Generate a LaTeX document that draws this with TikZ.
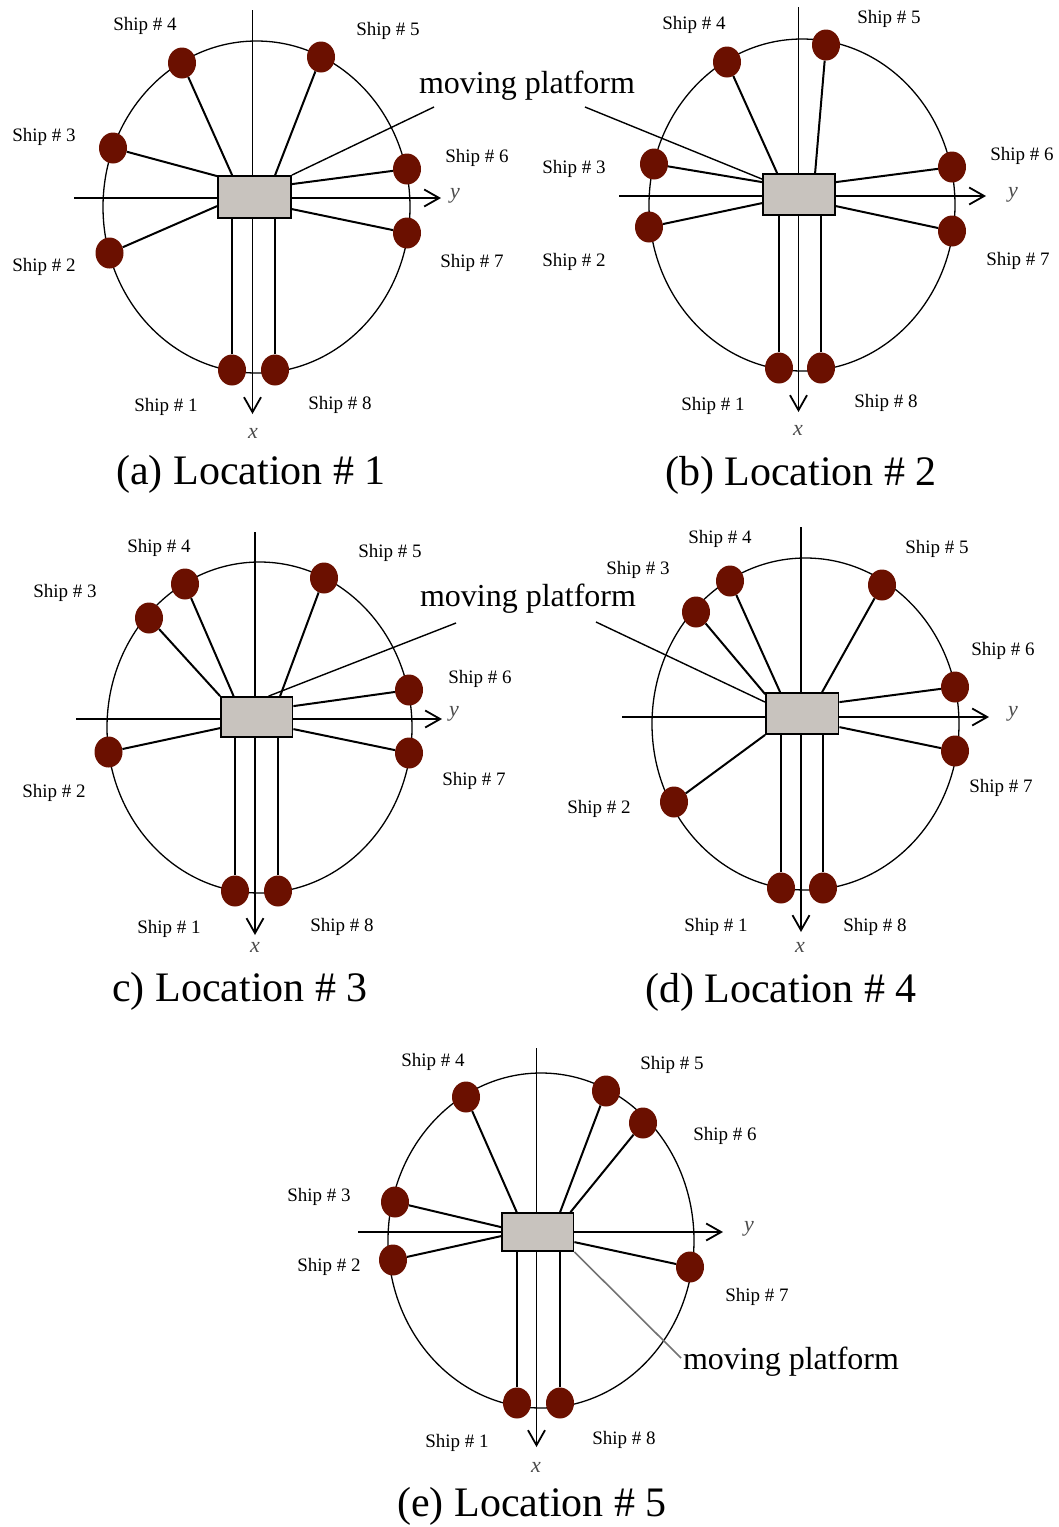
\documentclass[tikz,border=0pt]{standalone}
\usepackage{fontspec}
\setmainfont{Liberation Serif}
\usetikzlibrary{shapes.geometric,arrows.meta}
\definecolor{shipred}{RGB}{107,16,0}
\definecolor{platgray}{RGB}{200,195,190}
\begin{document}
\begin{tikzpicture}[x=1pt,y=-1pt,
 ship/.style={ellipse,fill=shipred,minimum width=28pt,minimum height=31pt,inner sep=0pt},
 plat/.style={draw=black,line width=1.8pt,fill=platgray,inner sep=0pt},
 lab/.style={font=\fontsize{19}{22}\selectfont,inner sep=0pt},
 ttl/.style={font=\fontsize{42}{48}\selectfont,inner sep=0pt},
 mp/.style={font=\fontsize{32}{38}\selectfont,inner sep=0pt},
 axl/.style={font=\fontsize{22}{26}\selectfont\itshape,text=black!70,inner sep=0pt},
 conn/.style={line width=2pt},
 circ/.style={line width=1.3pt},
 axis/.style={line width=1.8pt},
 axarrow/.style={axis,-{Straight Barb[length=15pt,width=17pt,line width=1.8pt]}},
 lead/.style={line width=1.4pt},
 glead/.style={line width=1.6pt,draw=black!55}]
\path[use as bounding box] (0,0) rectangle (1059,1527);

% ================= (a) =================
\draw[circ] (256.5,207) ellipse [x radius=153.5, y radius=166];
\coordinate (aVt) at (252.5,10); \coordinate (aVb) at (252.5,414);
\coordinate (aHl) at (74,198); \coordinate (aHr) at (441,198);
\draw[axarrow] (aVt) -- (aVb);
\draw[axarrow] (aHl) -- (aHr);
\node[plat,minimum width=73pt,minimum height=42pt] (aB) at (254.5,197) {};
\node[ship] (a4) at (182,63) {};
\node[ship] (a5) at (321,57) {};
\node[ship] (a3) at (113,148) {};
\node[ship] (a6) at (407,169) {};
\node[ship] (a2) at (109.5,253) {};
\node[ship] (a7) at (407,233) {};
\node[ship] (a1) at (232,370) {};
\node[ship] (a8) at (275,370) {};
\draw[conn] (a4) -- ([xshift=15pt]aB.north west);
\draw[conn] (a5) -- ([xshift=58pt]aB.north west);
\draw[conn] (a3) -- ([yshift=-1pt]aB.north west);
\draw[conn] (a6) -- ([yshift=-9pt]aB.north east);
\draw[conn] (a2) -- ([yshift=-31pt]aB.north west);
\draw[conn] (a7) -- ([yshift=-34pt]aB.north east);
\draw[conn] (a1) -- (a1 |- aB.south);
\draw[conn] (a8) -- (a8 |- aB.south);
\coordinate (aL) at (434,107);
\draw[lead] (aL) -- (aB.north east);
\node[lab] (a4l) at (145,26) {Ship \# 4};
\node[lab] (a5l) at (388,31) {Ship \# 5};
\node[lab] (a3l) at (44,137) {Ship \# 3};
\node[lab] (a6l) at (477,158) {Ship \# 6};
\node[lab] (a2l) at (44,267) {Ship \# 2};
\node[lab] (a7l) at (472,263) {Ship \# 7};
\node[lab] (a1l) at (166,407) {Ship \# 1};
\node[lab] (a8l) at (340,405) {Ship \# 8};
\node[axl] (axa) at (253,433) {x};
\node[axl] (aya) at (455,196) {y};
\node[ttl] (at) at (251,474) {(a) Location \# 1};

\node[mp] (mp1) at (527,86) {moving platform};

% ================= (b) =================
\draw[circ] (802,205) ellipse [x radius=153, y radius=166];
\coordinate (bVt) at (798.5,7); \coordinate (bVb) at (798.5,412);
\coordinate (bHl) at (619,196); \coordinate (bHr) at (986,196);
\draw[axarrow] (bVt) -- (bVb);
\draw[axarrow] (bHl) -- (bHr);
\node[plat,minimum width=72pt,minimum height=41pt] (bB) at (799,194.5) {};
\node[ship] (b4) at (727,62) {};
\node[ship] (b5) at (826,45) {};
\node[ship] (b3) at (654,164) {};
\node[ship] (b6) at (952,167) {};
\node[ship] (b2) at (649,227) {};
\node[ship] (b7) at (952,231) {};
\node[ship] (b1) at (779,368) {};
\node[ship] (b8) at (821,368) {};
\draw[conn] (b4) -- ([xshift=15pt]bB.north west);
\draw[conn] (b5) -- ([xshift=53pt]bB.north west);
\draw[conn] (b3) -- ([yshift=-9pt]bB.north west);
\draw[conn] (b6) -- ([yshift=-9pt]bB.north east);
\draw[conn] (b2) -- ([yshift=-30pt]bB.north west);
\draw[conn] (b7) -- ([yshift=-33pt]bB.north east);
\draw[conn] (b1) -- (b1 |- bB.south);
\draw[conn] (b8) -- (b8 |- bB.south);
\coordinate (bL) at (585,107);
\draw[lead] (bL) -- ([yshift=-6pt]bB.north west);
\node[lab] (b4l) at (694,25) {Ship \# 4};
\node[lab] (b5l) at (889,19) {Ship \# 5};
\node[lab] (b3l) at (574,169) {Ship \# 3};
\node[lab] (b6l) at (1022,156) {Ship \# 6};
\node[lab] (b2l) at (574,262) {Ship \# 2};
\node[lab] (b7l) at (1018,261) {Ship \# 7};
\node[lab] (b1l) at (713,406) {Ship \# 1};
\node[lab] (b8l) at (886,403) {Ship \# 8};
\node[axl] (bxa) at (798,430) {x};
\node[axl] (bya) at (1013,195) {y};
\node[ttl] (bt) at (801,475) {(b) Location \# 2};

% ================= (c) =================
\draw[circ] (259.5,727.5) ellipse [x radius=152.5, y radius=165.5];
\coordinate (cVt) at (255,532); \coordinate (cVb) at (255,935);
\coordinate (cHl) at (76,719); \coordinate (cHr) at (442,719);
\draw[axarrow] (cVt) -- (cVb);
\draw[axarrow] (cHl) -- (cHr);
\node[plat,minimum width=71.5pt,minimum height=40pt] (cB) at (256.75,717) {};
\node[ship] (c4) at (185,584) {};
\node[ship] (c5) at (324,578) {};
\node[ship] (c3) at (149,618) {};
\node[ship] (c6) at (409,690) {};
\node[ship] (c2) at (108.5,752) {};
\node[ship] (c7) at (409,753) {};
\node[ship] (c1) at (235,891) {};
\node[ship] (c8) at (278,891) {};
\draw[conn] (c4) -- ([xshift=13.5pt]cB.north west);
\draw[conn] (c5) -- ([xshift=60pt]cB.north west);
\draw[conn] (c3) -- (cB.north west);
\draw[conn] (c6) -- ([yshift=-10pt]cB.north east);
\draw[conn] (c2) -- ([yshift=-32pt]cB.north west);
\draw[conn] (c7) -- ([yshift=-33pt]cB.north east);
\draw[conn] (c1) -- (c1 |- cB.south);
\draw[conn] (c8) -- (c8 |- cB.south);
\coordinate (cL) at (456,623);
\draw[lead] (cL) -- ([xshift=48.5pt]cB.north west);
\node[lab] (c4l) at (159,548) {Ship \# 4};
\node[lab] (c5l) at (390,553) {Ship \# 5};
\node[lab] (c3l) at (65,593) {Ship \# 3};
\node[lab] (c6l) at (480,679) {Ship \# 6};
\node[lab] (c2l) at (54,793) {Ship \# 2};
\node[lab] (c7l) at (474,781) {Ship \# 7};
\node[lab] (c1l) at (169,929) {Ship \# 1};
\node[lab] (c8l) at (342,927) {Ship \# 8};
\node[axl] (cxa) at (255,947) {x};
\node[axl] (cya) at (454,714) {y};
\node[ttl] (ct) at (240,991) {c) Location \# 3};

\node[mp] (mp2) at (528,599) {moving platform};

% ================= (d) =================
\draw[circ] (805.5,724) ellipse [x radius=153.5, y radius=166];
\coordinate (dVt) at (801,527); \coordinate (dVb) at (801,932);
\coordinate (dHl) at (622,717); \coordinate (dHr) at (989,717);
\draw[axarrow] (dVt) -- (dVb);
\draw[axarrow] (dHl) -- (dHr);
\node[plat,minimum width=72.5pt,minimum height=41pt] (dB) at (802.25,713.5) {};
\node[ship] (d4) at (730,581) {};
\node[ship] (d5) at (882,585) {};
\node[ship] (d3) at (696,612) {};
\node[ship] (d6) at (955,687) {};
\node[ship] (d2) at (674,802) {};
\node[ship] (d7) at (955,751) {};
\node[ship] (d1) at (781,888) {};
\node[ship] (d8) at (823,888) {};
\draw[conn] (d4) -- ([xshift=15pt]dB.north west);
\draw[conn] (d5) -- ([xshift=57pt]dB.north west);
\draw[conn] (d3) -- ([yshift=-2pt]dB.north west);
\draw[conn] (d6) -- ([yshift=-10pt]dB.north east);
\draw[conn] (d2) -- (dB.south west);
\draw[conn] (d7) -- ([yshift=-35pt]dB.north east);
\draw[conn] (d1) -- (d1 |- dB.south);
\draw[conn] (d8) -- (d8 |- dB.south);
\coordinate (dL) at (596,622);
\draw[lead] (dL) -- ([yshift=-10pt]dB.north west);
\node[lab] (d4l) at (720,539) {Ship \# 4};
\node[lab] (d5l) at (937,549) {Ship \# 5};
\node[lab] (d3l) at (638,570) {Ship \# 3};
\node[lab] (d6l) at (1003,651) {Ship \# 6};
\node[lab] (d2l) at (599,809) {Ship \# 2};
\node[lab] (d7l) at (1001,788) {Ship \# 7};
\node[lab] (d1l) at (716,927) {Ship \# 1};
\node[lab] (d8l) at (875,927) {Ship \# 8};
\node[axl] (dxa) at (800,947) {x};
\node[axl] (dya) at (1013,714) {y};
\node[ttl] (dt) at (781,992) {(d) Location \# 4};

% ================= (e) =================
\draw[circ] (541,1240.5) ellipse [x radius=153, y radius=167.5];
\coordinate (eVt) at (536.5,1048); \coordinate (eVb) at (536.5,1447);
\coordinate (eHl) at (358,1232); \coordinate (eHr) at (723,1232);
\draw[axarrow] (eVt) -- (eVb);
\draw[axarrow] (eHl) -- (eHr);
\node[plat,minimum width=71.5pt,minimum height=38pt] (eB) at (537.75,1232) {};
\node[ship] (e4) at (466,1097) {};
\node[ship] (e5) at (606,1091) {};
\node[ship] (e6) at (643,1123) {};
\node[ship] (e3) at (395,1202) {};
\node[ship] (e2) at (393,1260) {};
\node[ship] (e7) at (690,1267) {};
\node[ship] (e1) at (517,1403) {};
\node[ship] (e8) at (560,1403) {};
\draw[conn] (e4) -- ([xshift=15.6pt]eB.north west);
\draw[conn] (e5) -- ([xshift=59pt]eB.north west);
\draw[conn] (e6) -- ([xshift=69.4pt]eB.north west);
\draw[conn] (e3) -- ([yshift=-15pt]eB.north west);
\draw[conn] (e2) -- ([yshift=-24pt]eB.north west);
\draw[conn] (e7) -- ([yshift=-30pt]eB.north east);
\draw[conn] (e1) -- (e1 |- eB.south);
\draw[conn] (e8) -- (e8 |- eB.south);
\coordinate (eL) at (681,1358);
\draw[glead] (eB.south east) -- (eL);
\node[lab] (e4l) at (433,1062) {Ship \# 4};
\node[lab] (e5l) at (672,1065) {Ship \# 5};
\node[lab] (e6l) at (725,1136) {Ship \# 6};
\node[lab] (e3l) at (319,1197) {Ship \# 3};
\node[lab] (e2l) at (329,1267) {Ship \# 2};
\node[lab] (e7l) at (757,1297) {Ship \# 7};
\node[lab] (e1l) at (457,1443) {Ship \# 1};
\node[lab] (e8l) at (624,1440) {Ship \# 8};
\node[axl] (exa) at (536,1467) {x};
\node[axl] (eya) at (749,1229) {y};
\node[mp] (mp3) at (791,1362) {moving platform};
\node[ttl] (et) at (532,1506) {(e) Location \# 5};
\end{tikzpicture}
\end{document}
